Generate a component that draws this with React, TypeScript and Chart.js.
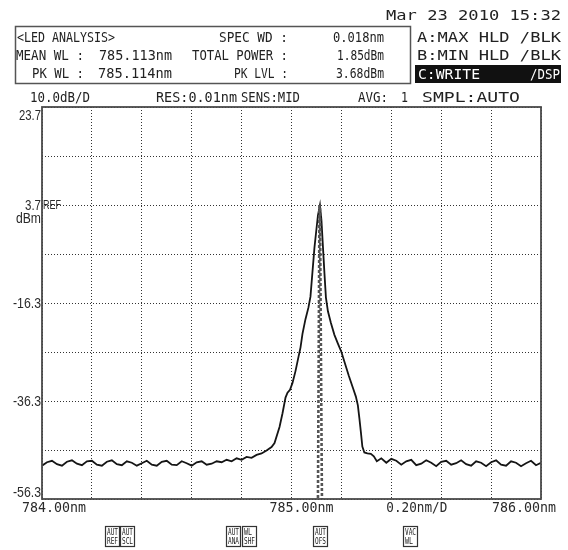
import React, { useEffect, useRef } from "react";
import { Chart, registerables } from "chart.js";

Chart.register(...registerables);

// ---- data ----
const traceWl = [
  784.0, 784.02, 784.04, 784.06, 784.08, 784.1, 784.12, 784.14, 784.16, 784.18,
  784.2, 784.22, 784.24, 784.26, 784.28, 784.3, 784.32, 784.34, 784.36, 784.38,
  784.4, 784.42, 784.44, 784.46, 784.48, 784.5, 784.52, 784.54, 784.56, 784.58,
  784.6, 784.62, 784.64, 784.66, 784.68, 784.7, 784.72, 784.74, 784.76, 784.78,
  784.8, 784.82, 784.84, 784.86, 784.88, 784.9, 784.92, 784.932, 784.952, 784.964,
  784.976, 784.984, 784.994, 785.004, 785.016, 785.028, 785.036, 785.044, 785.056, 785.068,
  785.076, 785.084, 785.092, 785.1, 785.106, 785.114, 785.12, 785.126, 785.132, 785.138,
  785.146, 785.158, 785.172, 785.186, 785.2, 785.214, 785.23, 785.246, 785.258, 785.266,
  785.272, 785.278, 785.284, 785.292, 785.304, 785.318, 785.33, 785.342, 785.36, 785.38,
  785.4, 785.42, 785.44, 785.46, 785.48, 785.5, 785.52, 785.54, 785.56, 785.58,
  785.6, 785.62, 785.64, 785.66, 785.68, 785.7, 785.72, 785.74, 785.76, 785.78,
  785.8, 785.82, 785.84, 785.86, 785.88, 785.9, 785.92, 785.94, 785.96, 785.98, 786.0,
];
const traceDbm = [
  -49.5, -48.8, -48.5, -49.2, -49.5, -48.7, -48.4, -49.1, -49.4, -48.6,
  -48.5, -49.3, -49.5, -48.7, -48.4, -49.2, -49.4, -48.6, -48.9, -49.5,
  -49.0, -48.5, -49.3, -49.5, -48.7, -48.5, -49.3, -49.4, -48.6, -49.0,
  -49.5, -48.8, -48.6, -49.3, -49.1, -48.6, -48.8, -48.3, -48.6, -48.0,
  -48.3, -47.7, -47.9, -47.3, -47.0, -46.4, -45.7, -44.9, -41.6, -38.8,
  -35.6, -34.6, -34.0, -32.6, -30.2, -27.3, -25.4, -22.6, -19.6, -17.2,
  -15.0, -10.0, -5.0, -1.2, 1.6, 3.68, 0.6, -4.8, -10.2, -15.2,
  -18.0, -20.4, -22.8, -24.6, -26.3, -28.6, -31.2, -33.6, -35.4, -37.2,
  -39.8, -42.6, -45.6, -46.8, -47.0, -47.1, -47.6, -48.6, -48.0, -48.9,
  -48.1, -48.5, -49.3, -48.6, -48.3, -49.4, -49.1, -48.4, -48.9, -49.6,
  -48.7, -48.5, -49.3, -49.0, -48.4, -49.2, -49.5, -48.6, -48.9, -49.6,
  -48.8, -48.4, -49.3, -49.5, -48.6, -48.9, -49.6, -49.0, -48.5, -49.4, -48.9,
];
// marker band (two dashed lines)
const markerAWl = [785.112, 785.106];
const markerBWl = [785.114, 785.122];
const markerDbm = [3.7, -56.3];

const xGrid = [784.0, 784.2, 784.4, 784.6, 784.8, 785.0, 785.2, 785.4, 785.6, 785.8, 786.0];
const yGrid = [-56.3, -46.3, -36.3, -26.3, -16.3, -6.3, 3.7, 13.7, 23.7];
const yLabelValues = [23.7, 3.7, -16.3, -36.3, -56.3];
const yLabels = ["23.7", "3.7", "-16.3", "-36.3", "-56.3"];
const xLabelValues = [784.0, 785.0, 785.5, 786.0];
const xLabels = ["784.00nm", "785.00nm", "0.20nm/D", "786.00nm"];

function fitText(ctx: CanvasRenderingContext2D, text: string, x: number, y: number, w: number, align: CanvasTextAlign) {
  const m = ctx.measureText(text).width || 1;
  ctx.save();
  ctx.translate(x, y);
  ctx.scale(w / m, 1);
  ctx.textAlign = align;
  ctx.fillText(text, 0, 0);
  ctx.restore();
}

const osaPlugin = {
  id: "osa",
  afterDraw(chart: any) {
    const { ctx, chartArea, scales } = chart;
    const { left, top, right, bottom } = chartArea;
    ctx.save();
    ctx.strokeStyle = "#4a4a4a";
    ctx.lineWidth = 1.8;
    ctx.setLineDash([]);
    ctx.strokeRect(left, top, right - left, bottom - top);
    ctx.fillStyle = "#2a2a2a";
    // y labels
    ctx.font = '15px "Liberation Sans"';
    yLabelValues.forEach((v, i) => {
      const py = scales.y.getPixelForValue(v);
      const lbl = yLabels[i];
      const w = lbl.length <= 3 ? 16 : lbl.length === 4 ? 22 : 28;
      if (i === 0) {
        ctx.textBaseline = "top";
        fitText(ctx, lbl, left - 1, py + 1, w, "right");
      } else if (i === yLabels.length - 1) {
        ctx.textBaseline = "bottom";
        fitText(ctx, lbl, left - 1, py + 1, w, "right");
      } else {
        ctx.textBaseline = "middle";
        fitText(ctx, lbl, left - 1, py + 1, w, "right");
      }
    });
    const pref = scales.y.getPixelForValue(3.7);
    ctx.font = '12px "Liberation Sans"';
    ctx.textBaseline = "middle";
    fitText(ctx, "REF", left + 1, pref + 1, 18, "left");
    ctx.font = '15px "Liberation Sans"';
    ctx.textBaseline = "top";
    fitText(ctx, "dBm", left - 1, pref + 6, 25, "right");
    // x labels
    ctx.font = '14px "DejaVu Sans Mono"';
    ctx.textBaseline = "middle";
    xLabelValues.forEach((v, i) => {
      const px = scales.x.getPixelForValue(v);
      const lbl = xLabels[i];
      if (i === 0) fitText(ctx, lbl, px - 20, bottom + 9, 64, "left");
      else if (i === 1) fitText(ctx, lbl, px - 22, bottom + 9, 64, "left");
      else if (i === 2) fitText(ctx, lbl, px - 30, bottom + 9, 61, "left");
      else fitText(ctx, lbl, px + 15, bottom + 9, 64, "right");
    });
    ctx.restore();
  },
};

const T = ({ x, y, w, s, size = 14, fill = "#222" }: any) => (
  <text
    x={x}
    y={y}
    textLength={w}
    lengthAdjust="spacingAndGlyphs"
    fontSize={size}
    fill={fill}
    fontFamily='"DejaVu Sans Mono", monospace'
  >
    {s}
  </text>
);

const Btn = ({ x, a, b }: any) => (
  <g>
    <rect x={x + 0.5} y={526.5} width={14} height={20} fill="none" stroke="#333" strokeWidth={1.2} />
    <T x={x + 2} y={535} w={a.length === 2 ? 8 : 11} s={a} size={8} />
    <T x={x + 2} y={544} w={b.length === 2 ? 8 : 11} s={b} size={8} />
  </g>
);

export default function App() {
  const ref = useRef<HTMLCanvasElement>(null);
  useEffect(() => {
    if (!ref.current) return;
    const chart = new Chart(ref.current, {
      type: "scatter",
      data: {
        datasets: [
          {
            data: markerAWl.map((w, i) => ({ x: w, y: markerDbm[i] })),
            showLine: true,
            borderColor: "#555",
            borderWidth: 2.6,
            borderDash: [3, 2],
            pointRadius: 0,
          },
          {
            data: markerBWl.map((w, i) => ({ x: w, y: markerDbm[i] })),
            showLine: true,
            borderColor: "#555",
            borderWidth: 2.6,
            borderDash: [3, 2],
            borderDashOffset: 2,
            pointRadius: 0,
          },
          {
            data: traceWl.map((w, i) => ({ x: w, y: traceDbm[i] })),
            showLine: true,
            borderColor: "#151515",
            borderWidth: 1.8,
            pointRadius: 0,
            tension: 0,
          },
        ],
      },
      options: {
        responsive: false,
        animation: false,
        events: [],
        layout: { padding: { left: 42, top: 107, right: 27, bottom: 51 } },
        plugins: { legend: { display: false }, tooltip: { enabled: false } },
        scales: {
          x: {
            type: "linear",
            min: 784,
            max: 786,
            afterBuildTicks: (s: any) => {
              s.ticks = xGrid.map((v) => ({ value: v }));
            },
            afterFit: (s: any) => {
              s.height = 0;
            },
            ticks: { display: false },
            grid: { color: "#333", lineWidth: 1, drawTicks: false },
            border: { display: false, dash: [1, 2] },
          },
          y: {
            type: "linear",
            min: -56.3,
            max: 23.7,
            afterBuildTicks: (s: any) => {
              s.ticks = yGrid.map((v) => ({ value: v }));
            },
            afterFit: (s: any) => {
              s.width = 0;
            },
            ticks: { display: false },
            grid: { color: "#333", lineWidth: 1, drawTicks: false },
            border: { display: false, dash: [1, 2] },
          },
        },
      } as any,
      plugins: [osaPlugin],
    });
    return () => chart.destroy();
  }, []);

  return (
    <div style={{ position: "absolute", left: 0, top: 0, width: 568, height: 550, background: "#fff" }}>
      <canvas ref={ref} width={568} height={550} style={{ position: "absolute", left: 0, top: 0 }} />
      <svg width={568} height={550} style={{ position: "absolute", left: 0, top: 0, pointerEvents: "none" }}>
        <T x={386} y={20} w={175} s="Mar 23 2010 15:32" />
        <rect x={15.5} y={26.5} width={395} height={57} fill="none" stroke="#555" strokeWidth={1.5} />
        <T x={17} y={42} w={98} s="<LED ANALYSIS>" />
        <T x={219} y={42} w={69} s="SPEC WD :" />
        <T x={333} y={42} w={51} s="0.018nm" />
        <T x={417} y={42} w={144} s="A:MAX HLD /BLK" />
        <T x={16} y={60} w={68} s="MEAN WL :" />
        <T x={99} y={60} w={73} s="785.113nm" />
        <T x={192} y={60} w={96} s="TOTAL POWER :" />
        <T x={337} y={60} w={47} s="1.85dBm" />
        <T x={417} y={60} w={144} s="B:MIN HLD /BLK" />
        <T x={32} y={78} w={52} s="PK WL :" />
        <T x={98} y={78} w={74} s="785.114nm" />
        <T x={234} y={78} w={54} s="PK LVL :" />
        <T x={336} y={78} w={48} s="3.68dBm" />
        <rect x={415} y={65} width={146} height={18} fill="#111" />
        <T x={418} y={79} w={62} s="C:WRITE" fill="#fff" />
        <T x={530} y={79} w={30} s="/DSP" fill="#fff" />
        <T x={30} y={102} w={60} s="10.0dB/D" />
        <T x={156} y={102} w={81} s="RES:0.01nm" />
        <T x={241} y={102} w={59} s="SENS:MID" />
        <T x={358} y={102} w={30} s="AVG:" />
        <T x={401} y={102} w={7} s="1" />
        <T x={422} y={102} w={98} s="SMPL:AUTO" />
        <Btn x={105} a="AUT" b="REF" />
        <Btn x={120} a="AUT" b="SCL" />
        <Btn x={226} a="AUT" b="ANA" />
        <Btn x={242} a="WL" b="SHF" />
        <Btn x={313} a="AUT" b="OFS" />
        <Btn x={403} a="VAC" b="WL" />
      </svg>
    </div>
  );
}
